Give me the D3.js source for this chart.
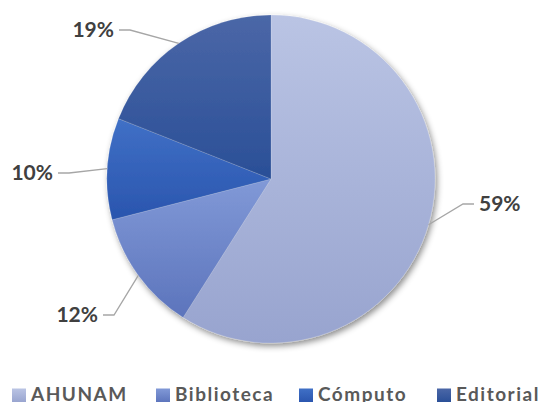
<!DOCTYPE html>
<html><head><meta charset="utf-8">
<script src="https://cdn.jsdelivr.net/npm/d3@7"></script>
<style>html,body{margin:0;padding:0;background:#fff;}svg{display:block;}</style>
</head><body>
<svg id="chart" width="542" height="402"></svg>
<script>
// data
const categories = ["AHUNAM", "Biblioteca", "Cómputo", "Editorial"];
const values = [59, 12, 10, 19];
const labels = ["59%", "12%", "10%", "19%"];

// styles / layout
const colorsTop = ["#bac4e4", "#8199d7", "#4070c6", "#4b67a7"];
const colorsBottom = ["#98a4cf", "#5c74bc", "#2a55ae", "#2a4f97"];
// label anchor (end of leader line next to text) and side
const labelAnchor = [[474, 204, 1], [103, 315, -1], [58, 173, -1], [119, 30, -1]];
const elbowDx = 11;

const W = 542, H = 402, cx = 271, cy = 179, R = 164;
const svg = d3.select("#chart");
const defs = svg.append("defs");

categories.forEach((c, i) => {
  const g = defs.append("linearGradient").attr("id", "grad" + i)
    .attr("x1", 0).attr("y1", 0).attr("x2", 0).attr("y2", 1);
  g.append("stop").attr("offset", "0%").attr("stop-color", colorsTop[i]);
  g.append("stop").attr("offset", "100%").attr("stop-color", colorsBottom[i]);
});

const f = defs.append("filter").attr("id", "shadow")
  .attr("x", "-20%").attr("y", "-20%").attr("width", "140%").attr("height", "140%");
f.append("feDropShadow").attr("dx", 2).attr("dy", 3).attr("stdDeviation", 3)
  .attr("flood-color", "#000").attr("flood-opacity", 0.45);

const pie = d3.pie().sort(null).value(d => d)(values);
const arc = d3.arc().innerRadius(0).outerRadius(R);

const gPie = svg.append("g").attr("transform", `translate(${cx},${cy})`);
gPie.append("g").attr("filter", "url(#shadow)")
  .selectAll("path").data(pie).join("path")
  .attr("d", arc)
  .attr("fill", (d, i) => `url(#grad${i})`)
  .attr("stroke", "rgba(255,255,255,0.25)")
  .attr("stroke-width", 0.6);

// leader lines
const lines = svg.append("g");
pie.forEach((d, i) => {
  const a = (d.startAngle + d.endAngle) / 2;
  const sx = cx + R * Math.sin(a), sy = cy - R * Math.cos(a);
  const [ax, ay, side] = labelAnchor[i];
  const ex = ax - side * elbowDx;
  lines.append("path")
    .attr("d", `M${sx},${sy}L${ex},${ay}L${ax},${ay}`)
    .attr("fill", "none").attr("stroke", "#a6a6a6").attr("stroke-width", 1.3);
  svg.append("text")
    .attr("x", ax + side * 5).attr("y", ay)
    .attr("dy", "0.35em")
    .attr("text-anchor", side > 0 ? "start" : "end")
    .attr("font-family", "Lato, 'Open Sans', sans-serif")
    .attr("font-weight", "bold").attr("font-size", 21)
    .attr("fill", "#404040")
    .text(labels[i]);
});

// legend
const legendX = [12, 156, 299, 437];
const leg = svg.append("g");
categories.forEach((c, i) => {
  leg.append("rect").attr("x", legendX[i]).attr("y", 388.5).attr("width", 14).attr("height", 14)
    .attr("fill", `url(#grad${i})`);
  leg.append("text").attr("x", legendX[i] + 19).attr("y", 400.5)
    .attr("font-family", "Lato, 'Open Sans', sans-serif")
    .attr("font-weight", "bold").attr("font-size", 19)
    .attr("letter-spacing", 1.5)
    .attr("fill", "#595959")
    .text(c);
});
</script>
</body></html>
